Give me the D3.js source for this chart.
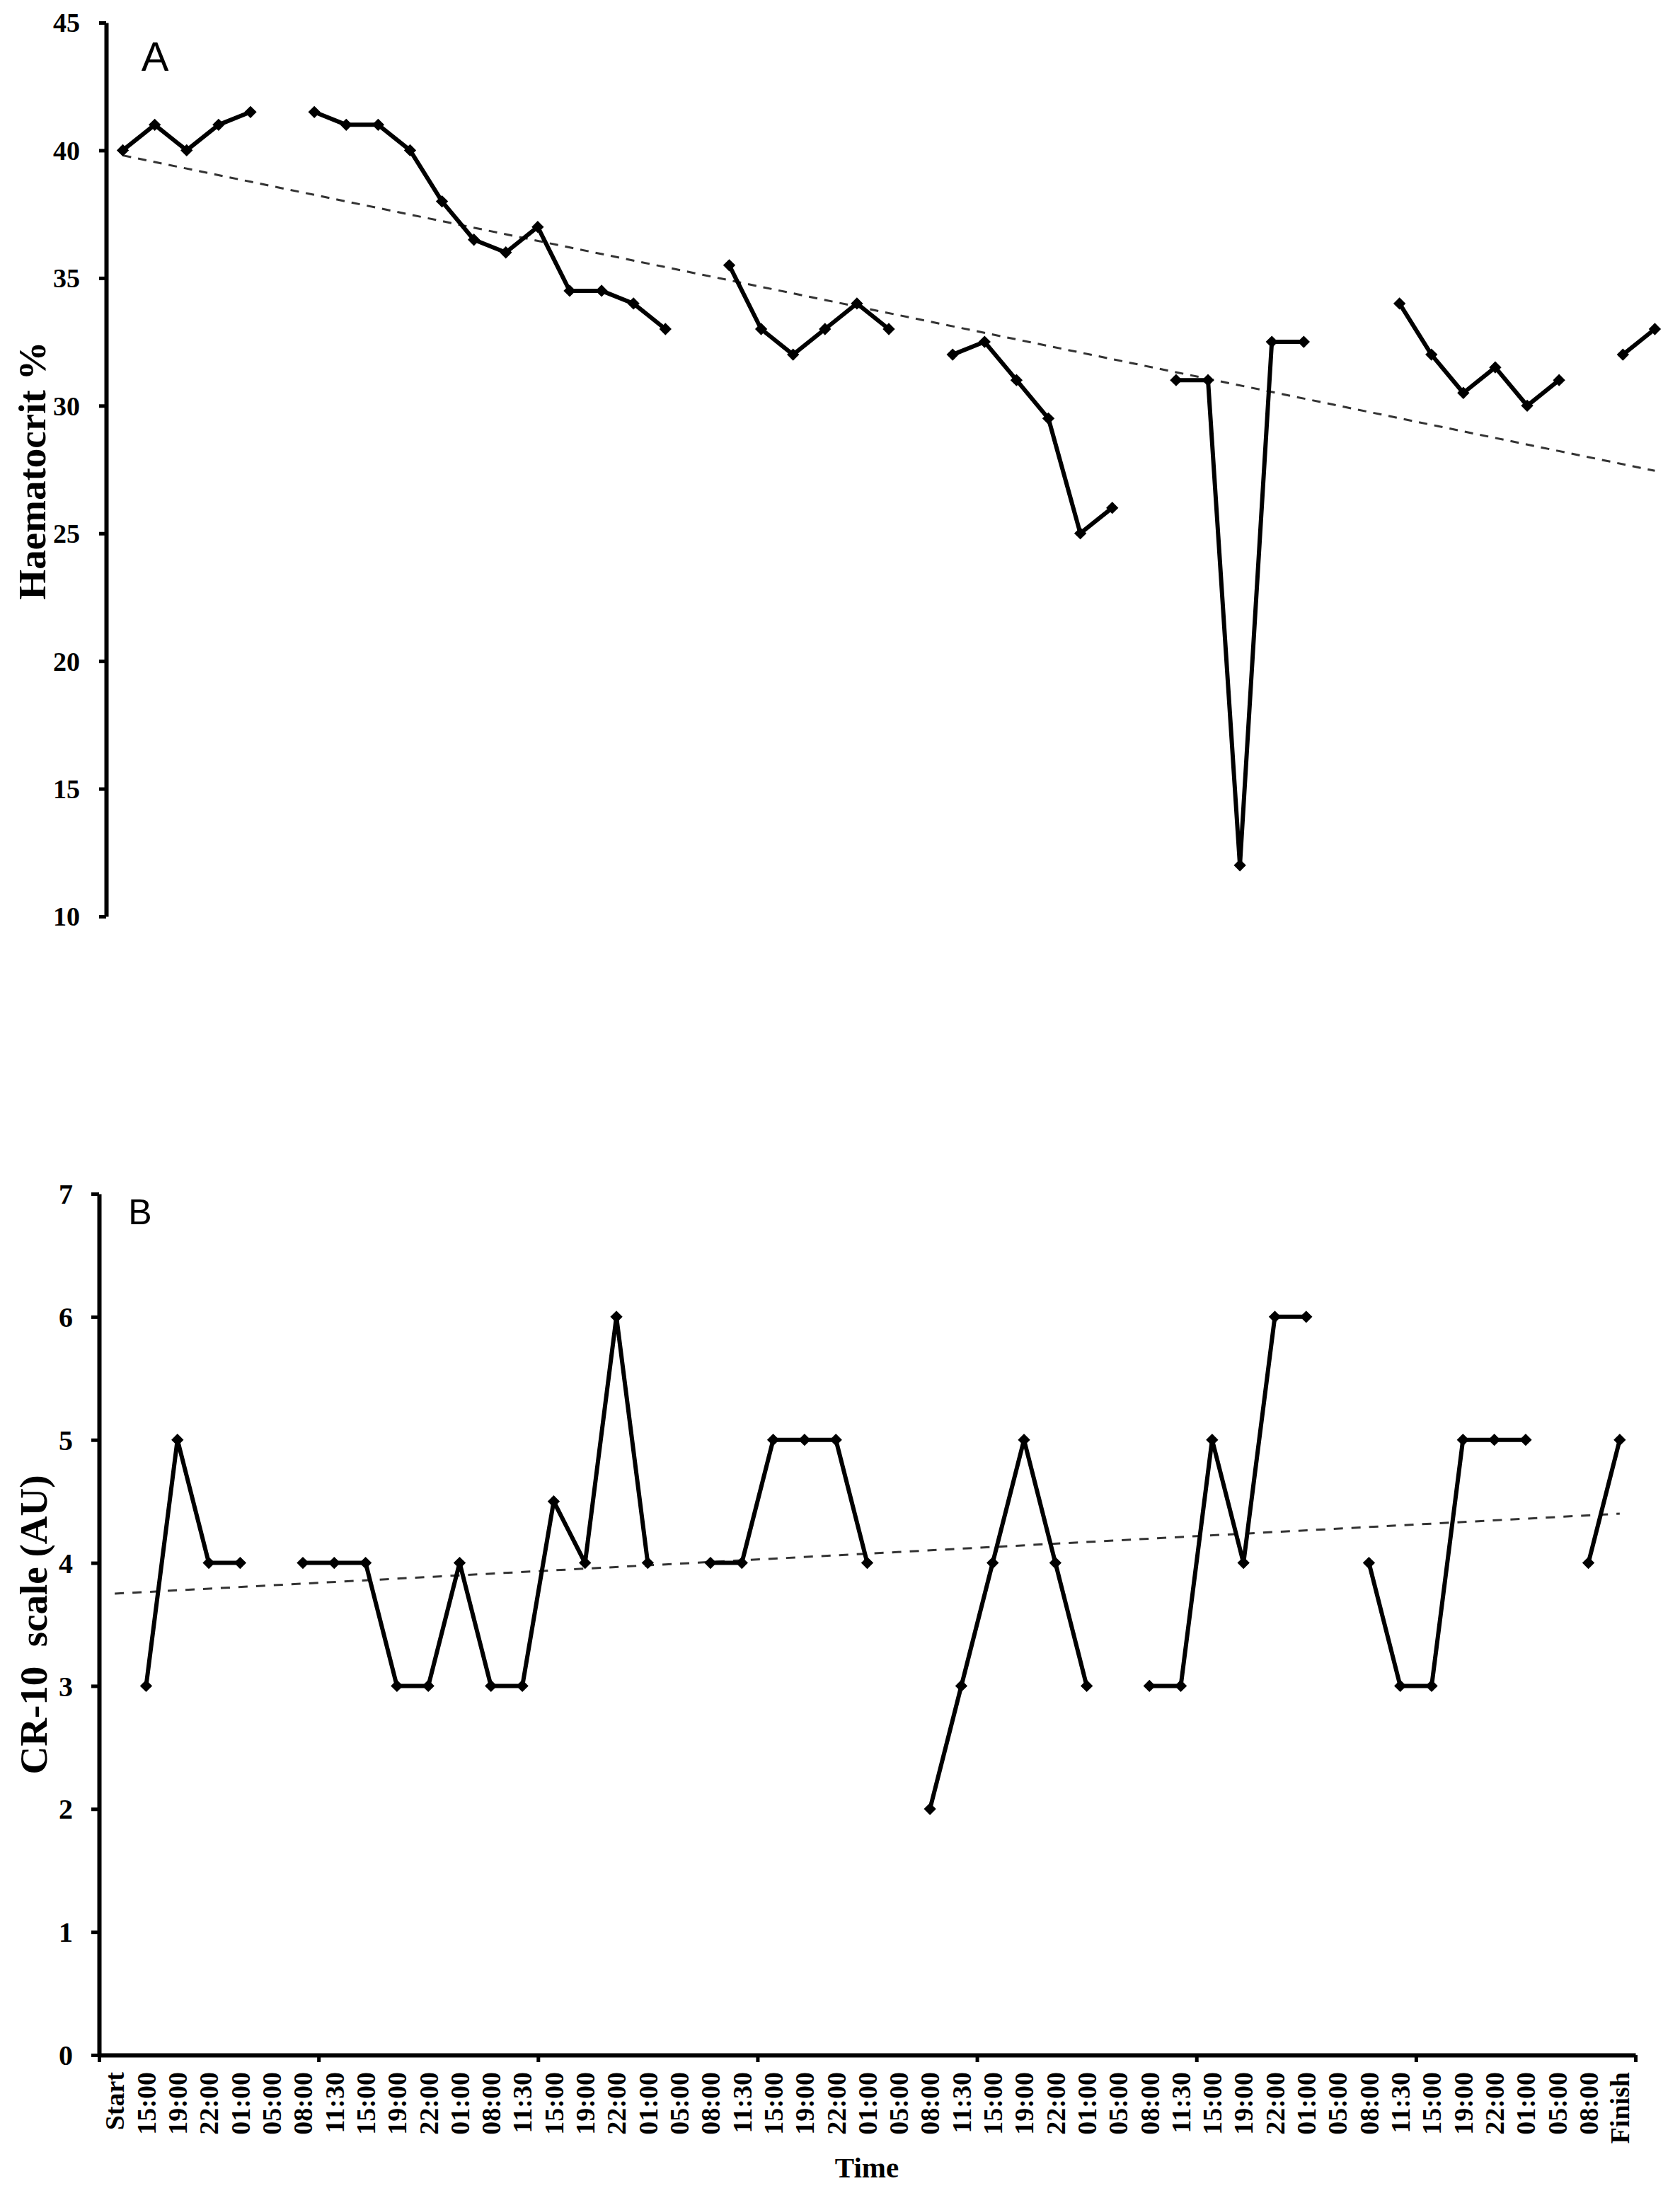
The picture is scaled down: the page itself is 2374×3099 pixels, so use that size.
<!DOCTYPE html>
<html><head><meta charset="utf-8">
<script src="https://cdn.jsdelivr.net/npm/d3@7"></script>
<style>
html,body{margin:0;padding:0;background:#fff;}
svg{display:block;background:#fff;}
text{font-family:"Liberation Serif","Times New Roman",serif;font-weight:bold;fill:#000;}
</style></head><body>
<svg id="chart" width="2374" height="3099"></svg>
<script>
// ---- data ----
const timeLabels = ["Start","15:00","19:00","22:00","01:00","05:00","08:00","11:30","15:00","19:00",
  "22:00","01:00","08:00","11:30","15:00","19:00","22:00","01:00","05:00","08:00",
  "11:30","15:00","19:00","22:00","01:00","05:00","08:00","11:30","15:00","19:00",
  "22:00","01:00","05:00","08:00","11:30","15:00","19:00","22:00","01:00","05:00",
  "08:00","11:30","15:00","19:00","22:00","01:00","05:00","08:00","Finish"];
const haematocrit = [40,41,40,41,41.5,null,
  41.5,41,41,40,38,36.5,36,37,34.5,34.5,34,33,null,
  35.5,33,32,33,34,33,null,
  32,32.5,31,29.5,25,26,null,
  31,31,12,32.5,32.5,null,null,
  34,32,30.5,31.5,30,31,null,
  32,33];
const cr10 = [null,3,5,4,4,null,
  4,4,4,3,3,4,3,3,4.5,4,6,4,null,
  4,4,5,5,5,4,null,
  2,3,4,5,4,3,null,
  3,3,5,4,6,6,null,
  4,3,3,5,5,5,null,
  4,5];
const trendHaematocrit = [39.8, 27.45];   // linear trend at Start and Finish
const trendCR10 = [3.75, 4.40];
const ticksA = [10,15,20,25,30,35,40,45];
const ticksB = [0,1,2,3,4,5,6,7];
const tickIntervalB = [0,7,14,21,28,35,42,49];

const svg = d3.select("#chart");
const idx = d3.range(timeLabels.length);
const fmt = d3.format("d");

// ---- Panel A ----
const xA = d3.scaleBand().domain(idx).range([151, 2361]);
const yA = d3.scaleLinear().domain([10,45]).range([1295, 32]);
const cxA = i => xA(i) + xA.bandwidth()/2;

const axA = svg.append("g").attr("transform","translate(150,0)")
  .call(d3.axisLeft(yA).tickValues(ticksA).tickFormat(fmt).tickSize(10).tickSizeOuter(0));
axA.select(".domain").attr("stroke","#000").attr("stroke-width",6);
axA.selectAll(".tick line").attr("stroke","#000").attr("stroke-width",5);
axA.selectAll(".tick text").attr("x",-37).attr("dy","0.34em")
  .style("font-size","38px").attr("text-anchor","end");

svg.append("line")
  .attr("x1", cxA(0)).attr("x2", cxA(idx.length-1))
  .attr("y1", yA(trendHaematocrit[0])).attr("y2", yA(trendHaematocrit[1]))
  .attr("stroke","#333").attr("stroke-width",3).attr("stroke-dasharray","12,10");

const lineA = d3.line().defined(d => d != null).x((d,i) => cxA(i)).y(d => yA(d));
svg.append("path").datum(haematocrit).attr("d", lineA)
  .attr("fill","none").attr("stroke","#000").attr("stroke-width",6).attr("stroke-linejoin","round");
const sym = d3.symbol(d3.symbolSquare, 150);
svg.append("g").selectAll("path").data(haematocrit.map((v,i)=>({v,i})).filter(d=>d.v!=null))
  .join("path").attr("d", sym)
  .attr("transform", d => `translate(${cxA(d.i)},${yA(d.v)}) rotate(45)`).attr("fill","#000");

svg.append("text").attr("x",219).attr("y",100).attr("text-anchor","middle")
  .style("font-family","'Liberation Sans',Arial,sans-serif").style("font-weight","normal")
  .style("font-size","58px").text("A");
svg.append("text").attr("transform","translate(64,665) rotate(-90)").attr("text-anchor","middle")
  .style("font-size","55px").text("Haematocrit %");

// ---- Panel B ----
const xB = d3.scaleBand().domain(idx).range([140, 2311]);
const yB = d3.scaleLinear().domain([0,7]).range([2904, 1687]);
const cxB = i => xB(i) + xB.bandwidth()/2;
const xBound = d3.scaleLinear().domain([0, idx.length]).range(xB.range());

const axB = svg.append("g").attr("transform","translate(140,0)")
  .call(d3.axisLeft(yB).tickValues(ticksB).tickFormat(fmt).tickSize(11).tickSizeOuter(0));
axB.select(".domain").attr("stroke","#000").attr("stroke-width",6);
axB.selectAll(".tick line").attr("stroke","#000").attr("stroke-width",5);
axB.selectAll(".tick text").attr("x",-37).attr("dy","0.34em")
  .style("font-size","40px").attr("text-anchor","end");

const axBx = svg.append("g").attr("transform","translate(0,2904)")
  .call(d3.axisBottom(xBound).tickValues(tickIntervalB).tickFormat("").tickSize(10).tickSizeOuter(0));
axBx.select(".domain").attr("stroke","#000").attr("stroke-width",6);
axBx.selectAll(".tick line").attr("stroke","#000").attr("stroke-width",5);

const axBl = svg.append("g").attr("transform","translate(0,2904)")
  .call(d3.axisBottom(xB).tickFormat(i => timeLabels[i]).tickSize(0));
axBl.select(".domain").remove();
axBl.selectAll(".tick text")
  .attr("transform","rotate(-90)").attr("x",-24).attr("y",0).attr("dy","0.35em")
  .attr("text-anchor","end").style("font-size","38px");

svg.append("line")
  .attr("x1", cxB(0)).attr("x2", cxB(idx.length-1))
  .attr("y1", yB(trendCR10[0])).attr("y2", yB(trendCR10[1]))
  .attr("stroke","#333").attr("stroke-width",3).attr("stroke-dasharray","13,12");

const lineB = d3.line().defined(d => d != null).x((d,i) => cxB(i)).y(d => yB(d));
svg.append("path").datum(cr10).attr("d", lineB)
  .attr("fill","none").attr("stroke","#000").attr("stroke-width",6).attr("stroke-linejoin","round");
svg.append("g").selectAll("path").data(cr10.map((v,i)=>({v,i})).filter(d=>d.v!=null))
  .join("path").attr("d", sym)
  .attr("transform", d => `translate(${cxB(d.i)},${yB(d.v)}) rotate(45)`).attr("fill","#000");

svg.append("text").attr("x",198).attr("y",1730).attr("text-anchor","middle")
  .style("font-family","'Liberation Sans',Arial,sans-serif").style("font-weight","normal")
  .style("font-size","50px").text("B");
svg.append("text").attr("transform","translate(66,2296) rotate(-90)").attr("text-anchor","middle")
  .style("font-size","55px").style("white-space","pre").attr("xml:space","preserve").text("CR-10  scale (AU)");
svg.append("text").attr("x",1225).attr("y",3077).attr("text-anchor","middle")
  .style("font-size","41px").text("Time");
</script>
</body></html>
